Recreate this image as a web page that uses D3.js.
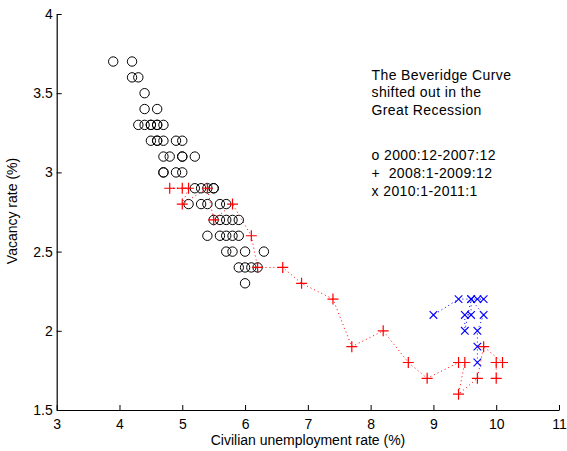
<!DOCTYPE html>
<html><head><meta charset="utf-8">
<script src="https://cdn.jsdelivr.net/npm/d3@7/dist/d3.min.js"></script>
<style>body{margin:0;background:#fff}svg{display:block}text{font-family:"Liberation Sans",Arial,sans-serif}</style>
</head><body><svg id="c" width="567" height="451"></svg>
<script>
// 2000:12-2007:12 (circles)
const preU = [3.9,4.2,4.2,4.3,4.4,4.4,4.6,
  4.3,4.4,4.5,4.5,4.6,4.6,4.7,
  4.5,4.6,4.6,4.7,4.9,5.0,
  4.7,4.8,5.0,5.0,5.2,
  4.7,4.7,4.9,5.0,
  5.2,5.3,5.4,5.5,5.5,
  5.1,5.3,5.4,5.6,5.7,
  5.5,5.6,5.7,5.8,5.9,
  5.4,5.6,5.7,5.8,5.9,
  5.7,5.8,6.0,6.3,
  5.9,6.0,6.1,6.2,
  6.0];
const preV = [3.7,3.7,3.6,3.6,3.5,3.4,3.4,
  3.3,3.3,3.3,3.3,3.3,3.3,3.3,
  3.2,3.2,3.2,3.2,3.2,3.2,
  3.1,3.1,3.1,3.1,3.1,
  3.0,3.0,3.0,3.0,
  2.9,2.9,2.9,2.9,2.9,
  2.8,2.8,2.8,2.8,2.8,
  2.7,2.7,2.7,2.7,2.7,
  2.6,2.6,2.6,2.6,2.6,
  2.5,2.5,2.5,2.5,
  2.4,2.4,2.4,2.4,
  2.3];
// 2008:1-2009:12 (plus)
const recU = [5.0,4.8,5.1,5.0,5.4,5.5,5.8,6.1,6.2,6.6,6.9,7.4,7.7,8.2,8.6,8.9,9.4,9.5,9.4,9.7,9.8,10.1,10.0,10.0];
const recV = [2.9,2.9,2.9,2.8,2.9,2.7,2.8,2.6,2.4,2.4,2.3,2.2,1.9,2.0,1.8,1.7,1.8,1.8,1.6,1.7,1.9,1.8,1.8,1.7];
// 2010:1-2011:1 (x)
const postU = [9.7,9.7,9.7,9.8,9.6,9.5,9.5,9.6,9.6,9.7,9.8,9.4,9.0];
const postV = [1.8,1.9,2.0,2.1,2.2,2.0,2.1,2.1,2.2,2.2,2.2,2.2,2.1];
const xTicks = [3,4,5,6,7,8,9,10,11];
const yTicks = [1.5,2,2.5,3,3.5,4];
const titleLines = ["The Beveridge Curve","shifted out in the","Great Recession"];
const legendLines = ["o 2000:12-2007:12","+\u00a0 2008:1-2009:12","x 2010:1-2011:1"];

const svg = d3.select("#c");
const x = d3.scaleLinear().domain([3,11]).range([56.7,559]);
const y = d3.scaleLinear().domain([1.5,4]).range([410,14]);

// axes
const gx = svg.append("g").attr("transform","translate(0,410)")
  .call(d3.axisBottom(x).tickValues(xTicks).tickSizeInner(-5).tickSizeOuter(0).tickPadding(9).tickFormat(d3.format("d")));
const gy = svg.append("g").attr("transform","translate(56.7,0)")
  .call(d3.axisLeft(y).tickValues(yTicks).tickSizeInner(-5).tickSizeOuter(0).tickPadding(4).tickFormat(d=>String(d)));
[gx,gy].forEach(g=>{
  g.select(".domain").attr("stroke","#000").attr("stroke-width",1.2);
  g.selectAll(".tick line").attr("stroke","#000");
  g.selectAll("text").attr("font-size",14).attr("fill","#000").attr("font-family","'Liberation Sans',Arial,sans-serif");
});
gx.selectAll("text").attr("dy","0.71em");

svg.append("text").attr("x",308).attr("y",445).attr("text-anchor","middle").attr("font-size",14).text("Civilian unemployment rate (%)");
svg.append("text").attr("transform","translate(17,211) rotate(-90)").attr("text-anchor","middle").attr("font-size",14).text("Vacancy rate (%)");

// circles
const pre = preU.map((u,i)=>[u,preV[i]]);
svg.append("g").selectAll("circle").data(pre).join("circle")
  .attr("cx",d=>x(d[0])).attr("cy",d=>y(d[1])).attr("r",4.7)
  .attr("fill","none").attr("stroke","#000").attr("stroke-width",1);

// recession
const rec = recU.map((u,i)=>[u,recV[i]]);
const line = d3.line().x(d=>x(d[0])).y(d=>y(d[1]));
svg.append("path").datum(rec).attr("d",line).attr("fill","none").attr("stroke","#ff0000").attr("stroke-width",1).attr("stroke-dasharray","1,3");
svg.append("g").selectAll("path").data(rec).join("path")
  .attr("d",d=>{const cx=x(d[0]),cy=y(d[1]),s=5.5;return `M${cx-s},${cy}H${cx+s}M${cx},${cy-s}V${cy+s}`;})
  .attr("stroke","#ff0000").attr("stroke-width",1.2).attr("fill","none");

// recovery
const post = postU.map((u,i)=>[u,postV[i]]);
svg.append("path").datum(post).attr("d",line).attr("fill","none").attr("stroke","#0000ff").attr("stroke-width",1).attr("stroke-dasharray","1,3");
svg.append("g").selectAll("path").data(post).join("path")
  .attr("d",d=>{const cx=x(d[0]),cy=y(d[1]),s=3.8;return `M${cx-s},${cy-s}L${cx+s},${cy+s}M${cx-s},${cy+s}L${cx+s},${cy-s}`;})
  .attr("stroke","#0000ff").attr("stroke-width",1.1).attr("fill","none");

// annotations
const ann = svg.append("g").attr("font-size",14).attr("fill","#000").attr("letter-spacing","0.4");
titleLines.forEach((t,i)=>ann.append("text").attr("x",371.5).attr("y",80+i*17.3).text(t));
legendLines.forEach((t,i)=>ann.append("text").attr("x",371.5).attr("y",160+i*17.8).text(t));
</script></body></html>
